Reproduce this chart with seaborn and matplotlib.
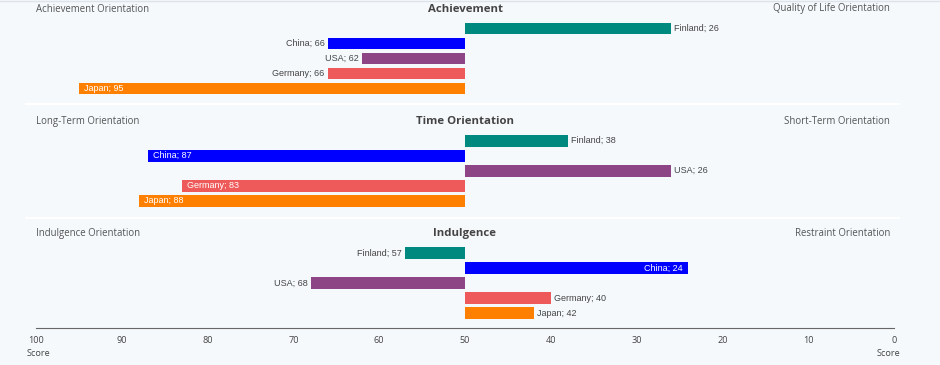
import matplotlib
matplotlib.use("Agg")
import matplotlib.pyplot as plt
import seaborn as sns
import pandas as pd

# ---------------- data ----------------
countries = ["Finland", "China", "USA", "Germany", "Japan"]
country_colors = ["#00897F", "#0000FF", "#8E4585", "#EE5A5A", "#FF8000"]

achievement = [26, 66, 62, 66, 95]
time_orientation = [38, 87, 26, 83, 88]
indulgence = [57, 24, 68, 40, 42]

panel_titles = ["Achievement", "Time Orientation", "Indulgence"]
left_labels = ["Achievement Orientation", "Long-Term Orientation", "Indulgence Orientation"]
right_labels = ["Quality of Life Orientation", "Short-Term Orientation", "Restraint Orientation"]

tick_scores = [100, 90, 80, 70, 60, 50, 40, 30, 20, 10, 0]
axis_title = "Score"
midpoint = 50

# ---------------- style ----------------
W, H = 940, 365
BG = "#f5f9fc"
sns.set_theme(style="white")
plt.rcParams["font.family"] = ["Open Sans", "DejaVu Sans"]

fig = plt.figure(figsize=(9.4, 3.65), dpi=100, facecolor=BG)


def fx(px):
    return px / W


def fy(py):
    return 1 - py / H


AX_L, AX_R = 36, 894
# (top px, bottom px, y-limit bottom, title y, side-label y)
layout = [
    (21.0, 96.0, 4.5, 9.5, 9.0),
    (133.3, 208.3, 4.5, 121.3, 121.3),
    (245.7, 328.3, 5.0, 233.3, 233.3),
]
series = [achievement, time_orientation, indulgence]

label_font = ["Liberation Sans", "DejaVu Sans"]

for i, values in enumerate(series):
    top, bottom, ybot, ty, sy = layout[i]
    df = pd.DataFrame({
        "country": countries,
        "score": values,
        "offset": [v - midpoint for v in values],
    })
    ax = fig.add_axes([fx(AX_L), fy(bottom), fx(AX_R - AX_L), (bottom - top) / H])
    ax.set_facecolor("none")
    sns.barplot(data=df, y="country", x="offset", hue="country", order=countries,
                hue_order=countries, palette=country_colors, orient="h",
                width=0.78, saturation=1, linewidth=0, legend=False, ax=ax)
    ax.set_xlim(midpoint, -midpoint)
    ax.set_ylim(ybot, -0.5)
    ax.set_ylabel("")
    ax.set_xlabel("")
    ax.set_yticks([])
    for s in ["top", "left", "right"]:
        ax.spines[s].set_visible(False)

    # value labels
    for j, (c, v) in enumerate(zip(countries, values)):
        off = v - midpoint
        txt = f"{c}; {v}"
        inside = abs(off) >= 25
        if off > 0:  # bar extends to the left (inverted axis)
            if inside:
                ax.annotate(txt, (off, j), xytext=(3.6, 0), textcoords="offset points",
                            ha="left", va="center", fontsize=6.5, color="white",
                            family=label_font)
            else:
                ax.annotate(txt, (off, j), xytext=(-2.2, 0), textcoords="offset points",
                            ha="right", va="center", fontsize=6.5, color="#444444",
                            family=label_font)
        else:
            if inside:
                ax.annotate(txt, (off, j), xytext=(-3.6, 0), textcoords="offset points",
                            ha="right", va="center", fontsize=6.5, color="white",
                            family=label_font)
            else:
                ax.annotate(txt, (off, j), xytext=(2.2, 0), textcoords="offset points",
                            ha="left", va="center", fontsize=6.5, color="#444444",
                            family=label_font)

    if i < 2:
        ax.spines["bottom"].set_visible(False)
        ax.set_xticks([])
    else:
        ax.spines["bottom"].set_color("#666666")
        ax.spines["bottom"].set_linewidth(0.8)
        ax.set_xticks([s - midpoint for s in tick_scores])
        ax.set_xticklabels([str(s) for s in tick_scores])
        ax.tick_params(axis="x", length=0, pad=5.8, labelsize=6.6, labelcolor="#444444")

    # titles and side labels
    fig.text(fx(465), fy(ty), panel_titles[i], ha="center", va="center",
             fontsize=8.2, fontweight="bold", color="#444444")
    fig.text(fx(36), fy(sy), left_labels[i], ha="left", va="center",
             fontsize=6.95, color="#555555")
    fig.text(fx(890), fy(sy), right_labels[i], ha="right", va="center",
             fontsize=6.95, color="#555555")

# axis titles under both ends
fig.text(fx(38), fy(354), axis_title, ha="center", va="center", fontsize=6.6, color="#444444")
fig.text(fx(888), fy(354), axis_title, ha="center", va="center", fontsize=6.6, color="#444444")

# white separators between panels
for yy in [103.5, 217.5]:
    fig.add_artist(plt.Line2D([fx(26), fx(899)], [fy(yy), fy(yy)], color="white",
                              linewidth=1.6, transform=fig.transFigure))
# faint top border
fig.add_artist(plt.Line2D([0, 1], [fy(0.5), fy(0.5)], color="#dde3e8",
                          linewidth=1.0, transform=fig.transFigure))

fig.savefig("out.png", dpi=100, facecolor=BG)
